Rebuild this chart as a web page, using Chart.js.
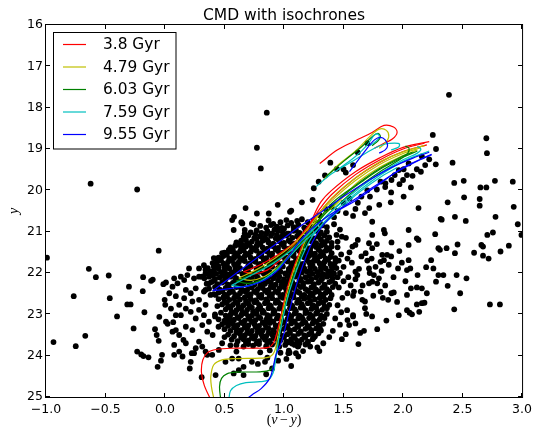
<!DOCTYPE html>
<html>
<head>
<meta charset="utf-8">
<title>CMD with isochrones</title>
<script src="https://cdn.jsdelivr.net/npm/chart.js@4.4.0/dist/chart.umd.min.js"></script>
<style>
  html, body { margin: 0; padding: 0; background: #fff; }
  #wrap { width: 537px; height: 430px; }
</style>
</head>
<body>
<div id="wrap"><canvas id="cmd"></canvas></div>
<script>
// axis ticks
var xTickValues = [-1.0, -0.5, 0.0, 0.5, 1.0, 1.5, 2.0, 2.5, 3.0];
var yTickValues = [16, 17, 18, 19, 20, 21, 22, 23, 24, 25];

// isochrone ages and colours
var ages = ["3.8 Gyr", "4.79 Gyr", "6.03 Gyr", "7.59 Gyr", "9.55 Gyr"];
var ageColors = ["#ff0000", "#bfbf00", "#008000", "#00bfbf", "#0000ff"];

// isochrone tracks, [v-y, y] per point
var track38 = [
  [[0.39,25.1],[0.33,24.72],[0.306,24.4],[0.318,24.1],[0.36,23.92],[0.43,23.85],[0.56,23.82],[0.75,23.82],[0.87,23.8],[0.91,23.7],[0.94,23.45],[0.975,23.02],[1.02,22.45],[1.06,22.05],[1.1,21.72],[1.17,21.2],[1.24,20.68],[1.31,20.28],[1.4,20.0],[1.6,19.55],[1.8,19.22],[2.0,18.96],[2.22,18.82]],
  [[0.66,21.97],[0.8,21.8],[0.95,21.55],[1.08,21.28],[1.2,20.88],[1.3,20.45],[1.4,20.1],[1.6,19.62],[1.8,19.27],[2.0,19.0],[2.18,18.86]],
  [[0.66,21.97],[0.75,22.02],[0.86,21.93],[0.96,21.7],[1.06,21.4],[1.16,21.05],[1.28,20.6],[1.4,20.2],[1.6,19.7],[1.8,19.33],[2.0,19.06],[2.2,18.9]],
  [[1.3,19.35],[1.45,19.02],[1.6,18.8],[1.74,18.6],[1.84,18.43],[1.92,18.47],[1.95,18.6],[1.91,18.76],[1.84,18.86],[1.76,18.98]]
];
var track479 = [
  [[0.415,25.1],[0.39,24.75],[0.385,24.5],[0.41,24.22],[0.48,24.1],[0.6,24.07],[0.8,24.06],[0.88,24.03],[0.92,23.9],[0.95,23.5],[0.985,23.0],[1.03,22.45],[1.075,22.0],[1.12,21.65],[1.19,21.15],[1.27,20.7],[1.35,20.35],[1.45,20.05],[1.6,19.7],[1.8,19.32],[2.0,19.07],[2.18,18.92]],
  [[0.62,22.12],[0.78,21.9],[0.93,21.63],[1.06,21.35],[1.18,21.0],[1.3,20.55],[1.42,20.2],[1.6,19.76],[1.8,19.38],[2.0,19.11],[2.15,18.97]],
  [[0.62,22.12],[0.72,22.18],[0.84,22.08],[0.95,21.85],[1.05,21.55],[1.16,21.15],[1.3,20.68],[1.45,20.3],[1.6,19.85],[1.8,19.45],[2.0,19.16],[2.12,19.02]],
  [[1.33,19.75],[1.45,19.4],[1.6,19.05],[1.72,18.7],[1.8,18.52],[1.86,18.55],[1.88,18.7],[1.85,18.86],[1.8,18.98]]
];
var track603 = [
  [[0.47,25.1],[0.458,24.75],[0.475,24.55],[0.52,24.44],[0.6,24.4],[0.8,24.39],[0.88,24.35],[0.915,24.22],[0.935,23.95],[0.96,23.5],[0.995,23.0],[1.04,22.45],[1.085,22.02],[1.135,21.62],[1.21,21.12],[1.3,20.72],[1.4,20.4],[1.5,20.12],[1.65,19.8],[1.8,19.5],[2.0,19.2],[2.12,19.05]],
  [[0.6,22.2],[0.76,21.98],[0.92,21.72],[1.05,21.45],[1.17,21.1],[1.28,20.75],[1.4,20.32],[1.6,19.88],[1.8,19.48],[2.0,19.17],[2.08,19.08]],
  [[0.6,22.2],[0.7,22.25],[0.82,22.15],[0.94,21.9],[1.04,21.6],[1.15,21.25],[1.28,20.85],[1.42,20.45],[1.6,19.98],[1.8,19.56],[1.96,19.28],[2.04,19.1],[2.05,18.98],[2.02,18.93]],
  [[1.35,19.67],[1.5,19.3],[1.65,18.95],[1.75,18.68],[1.79,18.62],[1.81,18.7],[1.79,18.8],[1.74,18.92]]
];
var track759 = [
  [[0.535,25.1],[0.55,24.85],[0.6,24.72],[0.68,24.65],[0.8,24.63],[0.87,24.58],[0.91,24.4],[0.93,24.1],[0.955,23.6],[0.99,23.1],[1.035,22.55],[1.085,22.1],[1.14,21.68],[1.22,21.2],[1.32,20.82],[1.45,20.45],[1.6,20.08],[1.8,19.65],[2.0,19.3],[2.22,19.05]],
  [[0.56,22.3],[0.72,22.06],[0.9,21.78],[1.04,21.5],[1.16,21.18],[1.28,20.85],[1.4,20.5],[1.6,20.02],[1.8,19.6],[2.0,19.26],[2.12,19.1],[2.15,19.0],[2.12,18.94]],
  [[0.56,22.3],[0.66,22.33],[0.79,22.22],[0.92,21.97],[1.03,21.65],[1.14,21.32],[1.28,20.95],[1.42,20.6],[1.6,20.12],[1.8,19.7],[1.95,19.45]],
  [[1.27,19.91],[1.4,19.6],[1.59,19.27],[1.76,18.98],[1.85,18.88],[1.93,18.86],[1.97,18.88],[1.96,18.96],[1.9,19.02]],
  [[1.45,19.5],[1.6,19.18],[1.7,18.9],[1.76,18.66],[1.79,18.64],[1.8,18.72],[1.77,18.82],[1.72,18.92]]
];
var track955 = [
  [[0.66,25.1],[0.73,24.95],[0.81,24.79],[0.88,24.55],[0.91,24.27],[0.93,24.0],[0.98,23.66],[1.05,22.86],[1.13,22.05],[1.24,21.24],[1.34,20.8],[1.45,20.5],[1.6,20.25],[1.8,19.85],[2.0,19.45],[2.24,19.13]],
  [[0.4,22.43],[0.7,21.79],[0.95,21.26],[1.15,20.84],[1.3,20.55],[1.5,20.15],[1.7,19.78],[1.9,19.45],[2.1,19.2],[2.22,19.08]],
  [[0.4,22.43],[0.56,22.37],[0.7,22.31],[0.84,22.17],[0.95,21.93],[1.04,21.6],[1.12,21.28],[1.22,20.96],[1.37,20.62],[1.55,20.3],[1.75,19.92],[1.95,19.55],[2.15,19.25],[2.24,19.14]],
  [[1.55,19.55],[1.68,19.05],[1.76,18.78],[1.81,18.72],[1.85,18.78],[1.87,18.92],[1.85,19.02],[1.8,19.1]]
];
var tracks = [track38, track479, track603, track759, track955];

// photometry: (v-y, y) for each star
var starsBright = [
  [-0.625,19.84],[-0.234,19.98],[0.772,18.97],[0.805,19.47],[0.677,20.43],[0.772,20.56],[0.855,18.12],
  [2.386,17.69],[2.25,18.66],[2.277,19.0],[2.275,19.37],[2.416,19.33],[2.7,18.74],[2.705,19.1],[2.43,19.82],
  [2.51,19.77],[2.65,19.93],[2.7,19.93],[2.772,19.77],[2.922,19.79],[2.513,20.17],[2.375,20.29],[2.644,20.21],
  [2.644,20.37],[2.93,20.4],[2.13,20.43],[1.897,20.29],[2.005,20.15],[2.066,19.93],[2.005,19.49],[2.033,19.63],
  [2.116,19.49],[2.186,19.39],[2.22,19.25],[2.158,19.18],[2.047,19.35],[1.964,19.51],[1.93,19.63],[1.903,19.75],
  [1.852,19.83],[1.811,19.79],[1.716,20.43],[1.722,20.15],[1.619,19.08],[1.519,19.57],[1.444,19.48],[1.389,19.33],
  [1.344,19.64],[1.291,19.79],[1.25,19.95],[1.15,20.29],[0.947,20.35],[1.061,20.49],[0.872,20.56],
  [1.7,18.86],[1.5,19.49],[1.58,19.39],[1.05,20.52],[1.24,20.23],
  [1.5,20.3],[1.55,20.2],[1.6,20.45],[1.65,20.15],[1.7,20.0],[1.78,19.98],[1.85,19.92],[1.45,20.5],[1.52,20.55],
  [1.58,20.62],[1.4,20.4],[1.62,20.3],[1.68,20.55],[1.8,20.35],[1.9,20.05],[1.97,19.85],[2.08,19.65],[2.15,19.55],
  [2.0,19.75],[1.35,20.45],[1.3,20.6],[1.42,20.65]
];
var starsRight = [
  [1.741,20.76],[1.839,20.96],[1.847,21.04],[2.047,20.96],[2.116,21.16],[2.13,21.2],[2.27,21.06],[2.316,20.69],
  [2.325,20.71],[2.436,20.64],[2.527,20.74],[2.777,20.64],[2.964,20.82],[2.995,21.08],[2.755,21.02],[2.708,21.08],
  [2.658,21.32],[2.672,21.36],[2.597,21.51],[2.672,21.58],[2.719,21.65],[2.819,21.48],[2.889,21.34],[2.458,21.31],
  [2.436,21.52],[2.366,21.4],[2.297,21.4],[2.31,21.44],[2.236,21.69],[2.194,21.86],[2.255,21.89],[2.297,22.05],
  [2.339,22.05],[2.45,22.05],[2.533,22.13],[2.375,22.31],[2.48,22.49],[2.277,22.21],[2.047,21.32],[1.969,21.47],
  [1.903,21.26],[1.9,21.6],[2.047,21.69],[2.061,21.89],[2.122,22.05],[2.033,21.93],[1.958,21.89],[2.116,22.35],
  [2.158,22.37],[2.2,22.49],[2.066,22.37],[2.033,22.53],[2.158,22.73],[2.18,22.72],[2.116,22.76],[2.136,22.94],
  [2.075,23.0],[2.033,22.9],[2.055,22.96],[1.964,23.02],[1.922,22.47],[1.903,22.49],[1.875,22.65],[1.83,22.6],
  [1.811,22.45],[1.783,22.25],[1.741,22.21],[1.714,22.25],[1.755,22.05],[1.769,21.85],[1.811,21.73],[1.839,21.69],
  [1.866,21.56],[1.825,21.56],[1.797,22.13],[1.736,21.65],[1.714,21.89],[1.686,21.52],[1.741,21.4],[1.714,21.28],
  [1.741,21.08],[1.783,23.36],[1.672,23.4],[1.625,23.72],[1.519,23.48],[1.486,23.6],[1.297,23.89],[1.047,23.93],
  [1.116,23.78],[2.73,22.76],[2.814,22.76],[2.43,22.88],[1.68,22.69],[1.691,22.99],[1.58,23.02],[1.6,23.22],
  [1.547,23.26],[1.533,23.14],[1.441,21.08],[1.486,21.12],[1.45,21.24],[1.575,21.36],[1.6,21.32],[1.533,21.65],
  [1.6,21.97],[1.616,22.05],[1.588,22.45],[1.644,22.45],[1.658,22.65],[1.58,22.55],[1.533,22.49],
  [1.42,20.82],[1.47,20.95],[1.45,21.38],[1.48,21.55],[1.46,21.7],[1.5,21.85],[1.47,22.0],[1.5,22.2],[1.46,22.35],
  [1.49,22.6],[1.45,22.78],[1.48,22.95],[1.43,23.1],[1.47,23.25],[1.41,23.4],[1.38,23.55],[1.33,23.7],[1.28,23.8],
  [1.52,21.15],[1.55,21.5],[1.57,21.75],[1.54,22.1],[1.56,22.3],[1.6,22.15],[1.53,22.9],[1.58,23.05],[1.62,21.2],
  [1.65,21.6],[1.63,21.9],[1.66,22.3],[1.7,21.7],[1.72,22.0],[1.68,22.85],[1.75,22.55],[1.78,21.3],[1.82,21.95],
  [1.85,22.3],[1.88,21.8],[1.92,22.1],[1.95,22.7],[1.99,21.75],[2.02,22.2],[1.86,23.15],[1.74,23.05],[1.64,23.45]
];
var starsLeft = [
  [-0.992,21.63],[-0.937,23.67],[-0.75,23.77],[-0.67,23.52],[-0.767,22.56],[-0.64,21.9],[-0.581,22.1],[-0.473,22.06],
  [-0.464,22.61],[-0.403,23.05],[-0.303,22.33],[-0.317,22.76],[-0.289,22.76],[-0.264,23.34],[-0.173,22.95],[-0.187,22.44],
  [-0.184,22.1],[-0.117,22.19],[-0.103,22.16],[-0.234,23.9],[-0.2,23.97],[-0.181,24.01],[-0.139,24.04],[-0.053,21.46],
  [-0.062,24.27],[-0.025,23.98],[-0.034,24.12],[-0.048,23.06],[-0.084,23.36],[-0.07,23.5],[-0.053,23.64],[-0.003,22.65],
  [0.002,22.77],[-0.014,22.27],[0.008,22.23],[0.022,23.23],[0.063,23.42],[0.069,23.19],[0.091,23.38],[0.077,23.74],
  [0.077,23.98],[0.119,23.9],[0.147,24.02],[0.155,23.62],[0.175,23.7],[0.225,23.94],[0.216,24.15],[0.208,24.31],
  [0.258,23.82],[0.308,24.52],[0.313,23.78],[0.341,23.9],[0.286,23.66],[0.23,23.38],[0.175,23.3],[0.133,23.02],
  [0.091,23.02],[0.05,22.86],[0.119,22.77],[0.091,22.56],[0.036,22.49],[0.063,22.33],[0.105,22.25],[0.077,22.13],
  [0.133,22.09],[0.161,22.17],[0.202,21.89],[0.188,22.05],[0.244,22.13],[0.286,22.09],[0.175,22.41],[0.216,22.49],
  [0.258,22.37],[0.161,22.61],[0.23,22.69],[0.286,22.65],[0.175,22.86],[0.216,22.94],[0.286,22.89],[0.258,23.1],
  [0.327,23.02],[0.313,23.26],[0.355,23.42],[0.369,23.18],[0.341,22.77],[0.383,22.53],[0.327,22.45],[0.119,23.5],
  [0.008,23.18],[0.425,24.47],[0.577,24.43],[0.66,24.47],[0.397,23.98],[0.452,23.86],[0.508,24.15],[0.619,24.07],
  [0.73,24.15],[0.564,20.72],[0.641,20.77],[0.67,20.96],[0.67,21.04],[0.744,20.82],[0.577,20.96],[0.425,21.65],
  [0.536,21.44],[0.327,21.81],[0.286,21.89],
  [0.73,20.8],[0.65,20.8],[0.58,20.64],[0.65,21.32],[0.564,21.48],[0.48,21.52],[0.58,21.64],[0.41,21.64],
  [0.45,21.84],[0.34,21.92],[0.31,22.09],[0.37,22.25],[0.34,22.41],[0.425,22.53],[0.66,24.27],[0.84,24.15],
  [0.9,24.31],[0.564,24.07],[0.355,23.98],[0.244,23.94],[1.036,23.94],[1.09,23.74],[0.42,23.05],[0.45,23.3],
  [0.5,23.55],[0.55,23.75],[0.6,23.9],[0.48,23.7],[0.4,23.5],[0.44,22.8],[0.52,23.2]
];
var starsCore = [
  [0.97,20.77],[1.02,20.72],[1.06,20.79],[1.11,20.74],[1.15,20.7],[1.2,20.77],[1.25,20.72],[1.3,20.78],[0.87,20.73],[0.91,20.81],
  [0.8,20.86],[0.85,20.9],[0.89,20.84],[0.94,20.88],[0.98,20.91],[1.03,20.85],[1.08,20.89],[1.12,20.83],[1.17,20.9],[1.22,20.86],[1.27,20.92],[1.32,20.85],[1.36,20.89],
  [0.72,21.02],[0.77,20.97],[0.81,21.03],[0.86,20.99],[0.9,21.04],[0.95,20.98],[0.99,21.02],[1.04,21.05],[1.08,20.98],[1.13,21.03],[1.18,20.99],[1.22,21.04],[1.27,20.98],[1.31,21.02],[1.36,21.0],
  [0.66,21.13],[0.7,21.09],[0.75,21.15],[0.8,21.11],[0.84,21.14],[0.89,21.1],[0.93,21.16],[0.98,21.12],[1.02,21.09],[1.07,21.15],[1.11,21.11],[1.16,21.14],[1.2,21.1],[1.25,21.16],[1.29,21.12],[1.34,21.09],[1.38,21.14],
  [0.6,21.26],[0.64,21.22],[0.69,21.28],[0.73,21.24],[0.78,21.27],[0.82,21.22],[0.87,21.26],[0.91,21.29],[0.96,21.23],[1.0,21.27],[1.05,21.24],[1.09,21.29],[1.14,21.22],[1.18,21.26],[1.23,21.23],[1.27,21.28],[1.32,21.25],[1.36,21.22],[1.4,21.27],
  [0.55,21.38],[0.59,21.34],[0.64,21.4],[0.68,21.36],[0.73,21.39],[0.77,21.34],[0.82,21.38],[0.86,21.41],[0.91,21.35],[0.95,21.39],[1.0,21.36],[1.04,21.41],[1.09,21.35],[1.13,21.38],[1.18,21.34],[1.22,21.4],[1.27,21.37],[1.31,21.34],[1.36,21.39],[1.4,21.36],
  [0.5,21.51],[0.54,21.47],[0.59,21.52],[0.63,21.48],[0.68,21.53],[0.72,21.49],[0.77,21.46],[0.81,21.52],[0.86,21.48],[0.9,21.53],[0.95,21.47],[0.99,21.51],[1.04,21.48],[1.08,21.53],[1.13,21.47],[1.17,21.51],[1.22,21.48],[1.26,21.53],[1.31,21.49],[1.35,21.46],[1.4,21.52],
  [0.45,21.63],[0.49,21.59],[0.54,21.65],[0.58,21.61],[0.63,21.64],[0.67,21.59],[0.72,21.63],[0.76,21.66],[0.81,21.6],[0.85,21.64],[0.9,21.61],[0.94,21.66],[0.99,21.6],[1.03,21.63],[1.08,21.59],[1.12,21.65],[1.17,21.62],[1.21,21.59],[1.26,21.64],[1.3,21.6],[1.35,21.65],[1.39,21.61],[1.43,21.64],
  [0.4,21.76],[0.44,21.72],[0.49,21.77],[0.53,21.73],[0.58,21.78],[0.62,21.74],[0.67,21.71],[0.71,21.77],[0.76,21.73],[0.8,21.78],[0.85,21.72],[0.89,21.76],[0.94,21.73],[0.98,21.78],[1.03,21.72],[1.07,21.76],[1.12,21.73],[1.16,21.78],[1.21,21.74],[1.25,21.71],[1.3,21.77],[1.34,21.73],[1.39,21.78],[1.43,21.74],
  [0.36,21.88],[0.41,21.84],[0.45,21.9],[0.5,21.86],[0.54,21.89],[0.59,21.84],[0.63,21.88],[0.68,21.91],[0.72,21.85],[0.77,21.89],[0.81,21.86],[0.86,21.91],[0.9,21.85],[0.95,21.88],[0.99,21.84],[1.04,21.9],[1.08,21.87],[1.13,21.84],[1.17,21.89],[1.22,21.85],[1.26,21.9],[1.31,21.86],[1.35,21.89],[1.4,21.84],[1.44,21.88],
  [0.34,22.01],[0.38,21.97],[0.43,22.02],[0.47,21.98],[0.52,22.03],[0.56,21.99],[0.61,21.96],[0.65,22.02],[0.7,21.98],[0.74,22.03],[0.79,21.97],[0.83,22.01],[0.88,21.98],[0.92,22.03],[0.97,21.97],[1.01,22.01],[1.06,21.98],[1.1,22.03],[1.15,21.99],[1.19,21.96],[1.24,22.02],[1.28,21.98],[1.33,22.03],[1.37,21.97],[1.42,22.01],
  [0.33,22.13],[0.37,22.09],[0.42,22.15],[0.46,22.11],[0.51,22.14],[0.55,22.09],[0.6,22.13],[0.64,22.16],[0.69,22.1],[0.73,22.14],[0.78,22.11],[0.82,22.16],[0.87,22.1],[0.91,22.13],[0.96,22.09],[1.0,22.15],[1.05,22.12],[1.09,22.09],[1.14,22.14],[1.18,22.1],[1.23,22.15],[1.27,22.11],[1.32,22.14],[1.36,22.09],[1.41,22.13],[1.45,22.1],
  [0.35,22.26],[0.39,22.22],[0.44,22.27],[0.48,22.23],[0.53,22.28],[0.57,22.24],[0.62,22.21],[0.66,22.27],[0.71,22.23],[0.75,22.28],[0.8,22.22],[0.84,22.26],[0.89,22.23],[0.93,22.28],[0.98,22.22],[1.02,22.26],[1.07,22.23],[1.11,22.28],[1.16,22.24],[1.2,22.21],[1.25,22.27],[1.29,22.23],[1.34,22.28],[1.38,22.22],[1.43,22.26],
  [0.37,22.38],[0.42,22.34],[0.46,22.4],[0.51,22.36],[0.55,22.39],[0.6,22.34],[0.64,22.38],[0.69,22.41],[0.73,22.35],[0.78,22.39],[0.82,22.36],[0.87,22.41],[0.91,22.35],[0.96,22.38],[1.0,22.34],[1.05,22.4],[1.09,22.37],[1.14,22.34],[1.18,22.39],[1.23,22.35],[1.27,22.4],[1.32,22.36],[1.36,22.39],[1.41,22.34],
  [0.41,22.51],[0.45,22.47],[0.5,22.52],[0.54,22.48],[0.59,22.53],[0.63,22.49],[0.68,22.46],[0.72,22.52],[0.77,22.48],[0.81,22.53],[0.86,22.47],[0.9,22.51],[0.95,22.48],[0.99,22.53],[1.04,22.47],[1.08,22.51],[1.13,22.48],[1.17,22.53],[1.22,22.49],[1.26,22.46],[1.31,22.52],[1.35,22.48],[1.4,22.53],
  [0.45,22.63],[0.49,22.59],[0.54,22.65],[0.58,22.61],[0.63,22.64],[0.67,22.59],[0.72,22.63],[0.76,22.66],[0.81,22.6],[0.85,22.64],[0.9,22.61],[0.94,22.66],[0.99,22.6],[1.03,22.63],[1.08,22.59],[1.12,22.65],[1.17,22.62],[1.21,22.59],[1.26,22.64],[1.3,22.6],[1.35,22.65],[1.39,22.61],
  [0.48,22.76],[0.52,22.72],[0.57,22.77],[0.61,22.73],[0.66,22.78],[0.7,22.74],[0.75,22.71],[0.79,22.77],[0.84,22.73],[0.88,22.78],[0.93,22.72],[0.97,22.76],[1.02,22.73],[1.06,22.78],[1.11,22.72],[1.15,22.76],[1.2,22.73],[1.24,22.78],[1.29,22.74],[1.33,22.71],[1.38,22.77],
  [0.51,22.88],[0.55,22.84],[0.6,22.9],[0.64,22.86],[0.69,22.89],[0.73,22.84],[0.78,22.88],[0.82,22.91],[0.87,22.85],[0.91,22.89],[0.96,22.86],[1.0,22.91],[1.05,22.85],[1.09,22.88],[1.14,22.84],[1.18,22.9],[1.23,22.87],[1.27,22.84],[1.32,22.89],[1.36,22.85],
  [0.42,23.0],[0.47,22.96],[0.51,23.03],[0.55,23.01],[0.59,22.97],[0.64,23.02],[0.68,22.98],[0.73,23.03],[0.77,22.99],[0.82,22.96],[0.86,23.02],[0.91,22.98],[0.95,23.03],[1.0,22.97],[1.04,23.01],[1.09,22.98],[1.13,23.03],[1.18,22.97],[1.22,23.01],[1.27,22.98],[1.31,23.03],[1.36,22.99],
  [0.45,23.12],[0.5,23.15],[0.54,23.1],[0.58,23.13],[0.62,23.09],[0.67,23.15],[0.71,23.11],[0.76,23.14],[0.8,23.09],[0.85,23.13],[0.89,23.16],[0.94,23.1],[0.98,23.14],[1.03,23.11],[1.07,23.16],[1.12,23.1],[1.16,23.13],[1.21,23.09],[1.25,23.15],[1.3,23.12],[1.34,23.09],
  [0.48,23.24],[0.53,23.28],[0.57,23.22],[0.61,23.26],[0.66,23.22],[0.7,23.27],[0.75,23.23],[0.79,23.28],[0.84,23.24],[0.88,23.21],[0.93,23.27],[0.97,23.23],[1.02,23.28],[1.06,23.22],[1.11,23.26],[1.15,23.23],[1.2,23.28],[1.24,23.22],[1.29,23.26],[1.33,23.23],
  [0.5,23.36],[0.55,23.4],[0.6,23.35],[0.64,23.38],[0.69,23.34],[0.73,23.4],[0.78,23.36],[0.82,23.39],[0.87,23.34],[0.91,23.38],[0.96,23.41],[1.0,23.35],[1.05,23.39],[1.09,23.36],[1.14,23.41],[1.18,23.35],[1.23,23.38],[1.27,23.34],[1.31,23.39],
  [0.53,23.49],[0.58,23.53],[0.63,23.47],[0.67,23.51],[0.72,23.47],[0.76,23.52],[0.81,23.48],[0.85,23.53],[0.9,23.49],[0.94,23.46],[0.99,23.52],[1.03,23.48],[1.08,23.53],[1.12,23.47],[1.17,23.51],[1.21,23.48],[1.26,23.53],[1.29,23.46],
  [0.56,23.61],[0.61,23.65],[0.66,23.6],[0.7,23.63],[0.75,23.59],[0.79,23.65],[0.84,23.61],[0.88,23.64],[0.93,23.59],[0.97,23.63],[1.02,23.66],[1.06,23.6],[1.11,23.64],[1.15,23.61],[1.2,23.66],[1.24,23.6],
  [0.6,23.74],[0.66,23.78],[0.7,23.72],[0.74,23.76],[0.79,23.72],[0.85,23.77],[0.9,23.73],[0.96,23.78],[1.01,23.74],[1.07,23.71],[1.12,23.77],[1.18,23.73],[1.22,23.78],
  [0.8,23.92],[0.88,23.87],[0.97,23.93],[1.04,23.88],[1.1,23.94],[1.16,23.89],
  [0.86,24.05],[0.95,24.12],[1.02,24.08],[1.12,24.02],[0.78,24.2],[0.62,24.35],[1.06,24.25],[0.85,24.45]
];
// stars between the rows above, in the densest part of the cloud
var starsCoreInner = [
  [0.92,20.95],[1.0,20.93],[1.1,20.96],[1.19,20.93],[1.28,20.95],
  [0.76,21.07],[0.85,21.05],[0.94,21.08],[1.03,21.05],[1.12,21.07],[1.21,21.06],[1.3,21.05],
  [0.68,21.2],[0.77,21.18],[0.86,21.2],[0.95,21.18],[1.04,21.21],[1.13,21.18],[1.22,21.2],[1.31,21.19],
  [0.62,21.31],[0.71,21.32],[0.8,21.3],[0.89,21.33],[0.98,21.3],[1.07,21.32],[1.16,21.3],[1.25,21.33],[1.34,21.31],
  [0.57,21.44],[0.66,21.45],[0.75,21.43],[0.84,21.45],[0.93,21.43],[1.02,21.45],[1.11,21.43],[1.2,21.45],[1.29,21.43],[1.38,21.44],
  [0.52,21.56],[0.61,21.57],[0.7,21.55],[0.79,21.57],[0.88,21.55],[0.97,21.57],[1.06,21.55],[1.15,21.57],[1.24,21.55],[1.33,21.57],
  [0.47,21.69],[0.56,21.7],[0.65,21.68],[0.74,21.7],[0.83,21.68],[0.92,21.7],[1.01,21.68],[1.1,21.7],[1.19,21.68],[1.28,21.7],[1.37,21.68],
  [0.43,21.81],[0.52,21.82],[0.61,21.8],[0.7,21.82],[0.79,21.8],[0.88,21.82],[0.97,21.8],[1.06,21.82],[1.15,21.8],[1.24,21.82],[1.33,21.8],[1.42,21.81],
  [0.41,21.94],[0.5,21.95],[0.59,21.93],[0.68,21.95],[0.77,21.93],[0.86,21.95],[0.95,21.93],[1.04,21.95],[1.13,21.93],[1.22,21.95],[1.31,21.93],[1.4,21.94],
  [0.4,22.06],[0.49,22.07],[0.58,22.05],[0.67,22.07],[0.76,22.05],[0.85,22.07],[0.94,22.05],[1.03,22.07],[1.12,22.05],[1.21,22.07],[1.3,22.05],[1.39,22.06],
  [0.41,22.19],[0.5,22.2],[0.59,22.18],[0.68,22.2],[0.77,22.18],[0.86,22.2],[0.95,22.18],[1.04,22.2],[1.13,22.18],[1.22,22.2],[1.31,22.18],[1.4,22.19],
  [0.44,22.31],[0.53,22.32],[0.62,22.3],[0.71,22.32],[0.8,22.3],[0.89,22.32],[0.98,22.3],[1.07,22.32],[1.16,22.3],[1.25,22.32],[1.34,22.3],
  [0.48,22.44],[0.57,22.45],[0.66,22.43],[0.75,22.45],[0.84,22.43],[0.93,22.45],[1.02,22.43],[1.11,22.45],[1.2,22.43],[1.29,22.45],[1.38,22.44],
  [0.52,22.56],[0.61,22.57],[0.7,22.55],[0.79,22.57],[0.88,22.55],[0.97,22.57],[1.06,22.55],[1.15,22.57],[1.24,22.55],[1.33,22.57],
  [0.5,22.69],[0.59,22.7],[0.68,22.68],[0.77,22.7],[0.86,22.68],[0.95,22.7],[1.04,22.68],[1.13,22.7],[1.22,22.68],[1.31,22.7],
  [0.53,22.81],[0.62,22.82],[0.71,22.8],[0.8,22.82],[0.89,22.8],[0.98,22.82],[1.07,22.8],[1.16,22.82],[1.25,22.8],[1.34,22.81],
  [0.56,22.94],[0.65,22.95],[0.74,22.93],[0.83,22.95],[0.92,22.93],[1.01,22.95],[1.1,22.93],[1.19,22.95],[1.28,22.93],
  [0.52,23.06],[0.61,23.07],[0.7,23.05],[0.79,23.07],[0.88,23.05],[0.97,23.07],[1.06,23.05],[1.15,23.07],[1.24,23.05],[1.33,23.06],
  [0.55,23.19],[0.64,23.2],[0.73,23.18],[0.82,23.2],[0.91,23.18],[1.0,23.2],[1.09,23.18],[1.18,23.2],[1.27,23.18],
  [0.58,23.31],[0.67,23.32],[0.76,23.3],[0.85,23.32],[0.94,23.3],[1.03,23.32],[1.12,23.3],[1.21,23.32],[1.3,23.31],
  [0.6,23.44],[0.69,23.45],[0.78,23.43],[0.87,23.45],[0.96,23.43],[1.05,23.45],[1.14,23.43],[1.23,23.45],
  [0.64,23.56],[0.73,23.57],[0.82,23.55],[0.91,23.57],[1.0,23.55],[1.09,23.57],[1.18,23.55],[1.25,23.56],
  [0.68,23.69],[0.77,23.7],[0.86,23.68],[0.95,23.7],[1.04,23.68],[1.13,23.7],[1.2,23.69]
];
var allStars = starsBright.concat(starsRight, starsLeft, starsCore, starsCoreInner);

function toXY(list) {
  return list.map(function (p) { return { x: p[0], y: p[1] }; });
}
function fmtTick(v) {
  return v < 0 ? "\u2212" + Math.abs(v).toFixed(1) : v.toFixed(1);
}

var datasets = [];
tracks.forEach(function (age, i) {
  age.forEach(function (seg, j) {
    datasets.push({
      label: j === 0 ? ages[i] : "",
      data: toXY(seg),
      showLine: true,
      borderColor: ageColors[i],
      borderWidth: 1.2,
      pointRadius: 0,
      tension: 0.35,
      fill: false,
      order: 5 - i
    });
  });
});
datasets.push({
  label: "stars",
  data: toXY(allStars),
  showLine: false,
  pointRadius: 2.9,
  backgroundColor: "#000",
  borderColor: "#000",
  borderWidth: 0,
  order: 10
});

// frame, inward ticks, title, axis labels and legend
var cmdDecor = {
  id: "cmdDecor",
  afterDatasetsDraw: function (chart) {
    var ctx = chart.ctx, a = chart.chartArea;
    var xs = chart.scales.x, ys = chart.scales.y;
    ctx.save();
    ctx.strokeStyle = "#000";
    ctx.lineWidth = 1;
    ctx.beginPath();
    xTickValues.forEach(function (v) {
      var px = Math.round(xs.getPixelForValue(v)) - 0.5;
      ctx.moveTo(px, a.bottom); ctx.lineTo(px, a.bottom - 4);
      ctx.moveTo(px, a.top); ctx.lineTo(px, a.top + 4);
    });
    yTickValues.forEach(function (v) {
      var py = Math.round(ys.getPixelForValue(v)) - 0.5;
      ctx.moveTo(a.left, py); ctx.lineTo(a.left + 4, py);
      ctx.moveTo(a.right, py); ctx.lineTo(a.right - 4, py);
    });
    ctx.stroke();
    ctx.strokeRect(a.left - 0.5, a.top - 0.5, a.right - a.left + 1, a.bottom - a.top + 1);
    ctx.restore();
  },
  afterDraw: function (chart) {
    var ctx = chart.ctx, a = chart.chartArea;
    var cx = (a.left + a.right) / 2;
    ctx.save();
    ctx.fillStyle = "#000";

    // title
    ctx.font = '15.5px "DejaVu Sans"';
    ctx.textAlign = "center";
    ctx.textBaseline = "alphabetic";
    ctx.fillText("CMD with isochrones", cx, 20);

    // x label (v-y), math style
    var parts = [["(", ""], ["v", "italic "], ["\u2212", ""], ["y", "italic "], [")", ""]];
    var gaps = [0, 0, 2.5, 2.5, 0];
    var total = 0;
    parts.forEach(function (p, i) {
      ctx.font = p[1] + '14px "Liberation Serif"';
      total += ctx.measureText(p[0]).width + gaps[i];
    });
    var px = cx - total / 2;
    ctx.textAlign = "left";
    parts.forEach(function (p, i) {
      ctx.font = p[1] + '14px "Liberation Serif"';
      px += gaps[i];
      ctx.fillText(p[0], px, 424);
      px += ctx.measureText(p[0]).width;
    });

    // y label
    ctx.save();
    ctx.translate(14, (a.top + a.bottom) / 2);
    ctx.rotate(-Math.PI / 2);
    ctx.font = 'italic 14px "Liberation Serif"';
    ctx.textAlign = "center";
    ctx.textBaseline = "middle";
    ctx.fillText("y", 0, 0);
    ctx.restore();

    // legend
    ctx.lineWidth = 1;
    ctx.fillStyle = "#fff";
    ctx.strokeStyle = "#000";
    ctx.fillRect(53.5, 32.5, 122.5, 116.5);
    ctx.strokeRect(53.5, 32.5, 122.5, 116.5);
    ctx.font = '15.4px "DejaVu Sans"';
    ctx.textAlign = "left";
    ctx.textBaseline = "middle";
    ages.forEach(function (label, i) {
      var cy = 44.5 + i * 22.5;
      ctx.strokeStyle = ageColors[i];
      ctx.lineWidth = 1.2;
      ctx.beginPath();
      ctx.moveTo(63, cy);
      ctx.lineTo(86, cy);
      ctx.stroke();
      ctx.fillStyle = "#000";
      ctx.fillText(label, 103, cy + 0.5);
    });
    ctx.restore();
  }
};

new Chart(document.getElementById("cmd"), {
  type: "scatter",
  data: { datasets: datasets },
  options: {
    responsive: true,
    maintainAspectRatio: false,
    devicePixelRatio: 1,
    animation: false,
    events: [],
    layout: { padding: { top: 25, right: 11, left: 0, bottom: 0 } },
    plugins: {
      legend: { display: false },
      title: { display: false },
      tooltip: { enabled: false }
    },
    scales: {
      x: {
        type: "linear",
        min: -1,
        max: 3,
        grid: { display: false, drawTicks: false },
        border: { display: false },
        afterBuildTicks: function (s) { s.ticks = xTickValues.map(function (v) { return { value: v }; }); },
        afterFit: function (s) { s.height = 33; },
        ticks: {
          color: "#000",
          font: { family: "DejaVu Sans", size: 12.5 },
          padding: 5,
          maxRotation: 0,
          autoSkip: false,
          callback: function (v) { return fmtTick(v); }
        }
      },
      y: {
        type: "linear",
        reverse: true,
        min: 16,
        max: 25,
        grid: { display: false, drawTicks: false },
        border: { display: false },
        afterBuildTicks: function (s) { s.ticks = yTickValues.map(function (v) { return { value: v }; }); },
        afterFit: function (s) { s.width = 46; },
        ticks: {
          color: "#000",
          font: { family: "DejaVu Sans", size: 12.5 },
          padding: 3,
          callback: function (v) { return String(v); }
        }
      }
    }
  },
  plugins: [cmdDecor]
});
</script>
</body>
</html>
